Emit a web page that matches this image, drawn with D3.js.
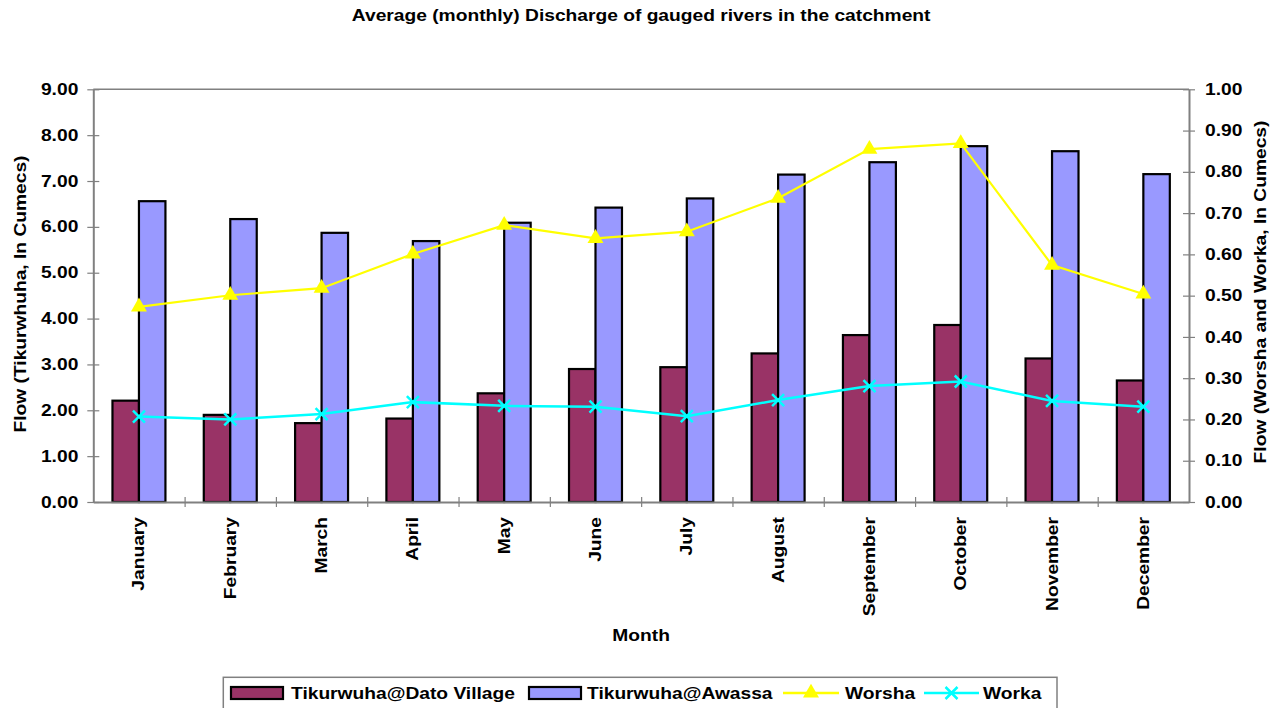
<!DOCTYPE html>
<html><head><meta charset="utf-8">
<script src="https://cdnjs.cloudflare.com/ajax/libs/d3/7.8.5/d3.min.js"></script>
<style>
html,body{margin:0;padding:0;background:#fff;}
text{font-family:"Liberation Sans",Arial,sans-serif;font-weight:bold;fill:#000;}
</style></head>
<body><svg id="c" width="1284" height="708"></svg>
<script>
const months = ["January","February","March","April","May","June","July","August","September","October","November","December"];
const datoVillage = [2.21,1.90,1.72,1.82,2.37,2.90,2.94,3.24,3.64,3.86,3.13,2.65];
const awassa = [6.56,6.17,5.87,5.69,6.09,6.42,6.62,7.14,7.41,7.76,7.65,7.15];
const worsha = [0.473,0.501,0.518,0.601,0.671,0.639,0.655,0.736,0.855,0.869,0.574,0.504];
const worka = [0.207,0.200,0.213,0.242,0.233,0.231,0.208,0.247,0.281,0.292,0.245,0.231];
const leftTicks = [0,1,2,3,4,5,6,7,8,9];
const rightTicks = [0,0.1,0.2,0.3,0.4,0.5,0.6,0.7,0.8,0.9,1.0];
const barSeries = ["Tikurwuha@Dato Village","Tikurwuha@Awassa"];
const lineSeries = ["Worsha","Worka"];
const titleText = "Average (monthly) Discharge of gauged rivers in the catchment";
const xTitle = "Month";
const yLeftTitle = "Flow (Tikurwhuha, In Cumecs)";
const yRightTitle = "Flow (Worsha and Worka, In Cumecs)";

const colors = {"Tikurwuha@Dato Village":"#993366","Tikurwuha@Awassa":"#9999FF","Worsha":"#FFFF00","Worka":"#00FFFF"};
const L = 93.3, R = 1189, T = 89.3, B = 502;
const svg = d3.select("#c");
const STR = 1.2;
function stretch(sel){ sel.each(function(){ const l=this.getComputedTextLength(); this.setAttribute("textLength", l*STR); this.setAttribute("lengthAdjust","spacingAndGlyphs"); }); }

const x0 = d3.scaleBand().domain(months).range([L,R]).paddingInner(0.42).paddingOuter(0.21);
const x1 = d3.scaleBand().domain(barSeries).range([0,x0.bandwidth()]);
const xc = m => x0(m) + x0.bandwidth()/2;
const yL = d3.scaleLinear().domain([0,9]).range([B,T]);
const yR = d3.scaleLinear().domain([0,1]).range([B,T]);

// title
svg.append("text").attr("x",(L+R)/2).attr("y",21).attr("text-anchor","middle").style("font-size","16px").text(titleText).call(stretch);

// plot border top
svg.append("line").attr("x1",L).attr("x2",R).attr("y1",T).attr("y2",T).attr("stroke","#808080").attr("stroke-width",1.5);

// bars
const barData = [];
months.forEach((m,i)=>{ barData.push({m,s:barSeries[0],v:datoVillage[i]}); barData.push({m,s:barSeries[1],v:awassa[i]}); });
svg.append("g").selectAll("rect").data(barData).join("rect")
  .attr("x",d=>x0(d.m)+x1(d.s)).attr("width",x1.bandwidth())
  .attr("y",d=>yL(d.v)).attr("height",d=>B-yL(d.v))
  .attr("fill",d=>colors[d.s]).attr("stroke","#000").attr("stroke-width",2.2);

// axes
const gl = svg.append("g").attr("transform",`translate(${L},0)`)
  .call(d3.axisLeft(yL).tickValues(leftTicks).tickFormat(d3.format(".2f")).tickSizeInner(6).tickSizeOuter(0).tickPadding(9));
const gr = svg.append("g").attr("transform",`translate(${R},0)`)
  .call(d3.axisRight(yR).tickValues(rightTicks).tickFormat(d3.format(".2f")).tickSizeInner(6).tickSizeOuter(0).tickPadding(10));
const xb = d3.scalePoint().domain(d3.range(13)).range([L,R]);
const gb = svg.append("g").attr("transform",`translate(0,${B})`)
  .call(d3.axisBottom(xb).tickValues(d3.range(1,12)).tickFormat("").tickSizeInner(5).tickSizeOuter(0));
[gl,gr,gb].forEach(g=>{ g.select(".domain").attr("stroke","#808080").attr("stroke-width",2); g.selectAll(".tick line").attr("stroke","#808080").attr("stroke-width",1.2); });
gl.selectAll(".tick line").attr("x1",6);
gr.selectAll(".tick line").attr("x1",-6);
gb.selectAll(".tick line").attr("y1",-5);
[gl,gr].forEach(g=>g.selectAll(".tick text").style("font-size","16px").style("font-family","'Liberation Sans',Arial,sans-serif").style("font-weight","bold").attr("fill","#000").call(stretch));

// month labels
svg.append("g").selectAll("text").data(months).join("text")
  .attr("transform",d=>`translate(${xc(d)+5.5},517) rotate(-90)`)
  .attr("text-anchor","end").style("font-size","16px").text(d=>d).call(stretch);

// axis titles
svg.append("text").attr("x",(L+R)/2).attr("y",641).attr("text-anchor","middle").style("font-size","16px").text(xTitle).call(stretch);
svg.append("text").attr("transform",`translate(26,294) rotate(-90)`).attr("text-anchor","middle").style("font-size","16px").text(yLeftTitle).call(stretch);
svg.append("text").attr("transform",`translate(1266,292) rotate(-90)`).attr("text-anchor","middle").style("font-size","16px").text(yRightTitle).call(stretch);

// lines
const tri = d3.symbol().type(d3.symbolTriangle).size(110);
const lineGen = yS => d3.line().x((d,i)=>xc(months[i])).y(d=>yS(d));
svg.append("path").datum(worsha).attr("d",lineGen(yR)).attr("fill","none").attr("stroke",colors.Worsha).attr("stroke-width",2.2);
svg.append("g").selectAll("path").data(worsha).join("path")
  .attr("transform",(d,i)=>`translate(${xc(months[i])},${yR(d)})`).attr("d",tri).attr("fill",colors.Worsha);
svg.append("path").datum(worka).attr("d",lineGen(yR)).attr("fill","none").attr("stroke",colors.Worka).attr("stroke-width",2.5);
const xm = 6;
svg.append("g").selectAll("path").data(worka).join("path")
  .attr("transform",(d,i)=>`translate(${xc(months[i])},${yR(d)})`)
  .attr("d",`M${-xm},${-xm}L${xm},${xm}M${-xm},${xm}L${xm},${-xm}`).attr("stroke",colors.Worka).attr("stroke-width",2.5).attr("fill","none");

// legend
const lg = svg.append("g");
lg.append("rect").attr("x",223.3).attr("y",677.3).attr("width",833.7).attr("height",40).attr("fill","#fff").attr("stroke","#808080").attr("stroke-width",1.5);
const ly = 693;
const legendItems = [
  {s:barSeries[0], kind:"bar", sx:231, tx:291},
  {s:barSeries[1], kind:"bar", sx:529, tx:587},
  {s:lineSeries[0], kind:"tri", sx:783, ex:839, tx:845},
  {s:lineSeries[1], kind:"x", sx:924, ex:979, tx:983}
];
legendItems.forEach(it=>{
  if(it.kind==="bar"){
    lg.append("rect").attr("x",it.sx).attr("y",ly-6).attr("width",52).attr("height",12).attr("fill",colors[it.s]).attr("stroke","#000").attr("stroke-width",2.2);
  } else {
    lg.append("line").attr("x1",it.sx).attr("x2",it.ex).attr("y1",ly).attr("y2",ly).attr("stroke",colors[it.s]).attr("stroke-width",2.5);
    const cx=(it.sx+it.ex)/2;
    if(it.kind==="tri") lg.append("path").attr("transform",`translate(${cx},${ly})`).attr("d",tri).attr("fill",colors[it.s]);
    else lg.append("path").attr("transform",`translate(${cx},${ly})`).attr("d",`M${-xm},${-xm}L${xm},${xm}M${-xm},${xm}L${xm},${-xm}`).attr("stroke",colors[it.s]).attr("stroke-width",2.5);
  }
  lg.append("text").attr("x",it.tx).attr("y",ly+6).style("font-size","16px").text(it.s).call(stretch);
});
</script></body></html>
